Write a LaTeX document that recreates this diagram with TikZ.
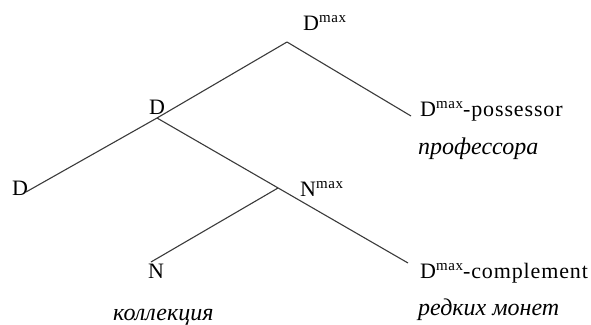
\documentclass[tikz,border=0pt]{standalone}
\usepackage{fontspec}
\setmainfont{Liberation Serif}
\usepackage{tikz}
\usetikzlibrary{positioning}
\definecolor{branch}{HTML}{3A3A3A}
\newcommand{\maxsup}[1]{#1\raisebox{7.5pt}{\fontsize{15}{15}\selectfont max}}

\begin{document}
\begin{tikzpicture}[x=1pt,y=-1pt,
  lbl/.style={anchor=base west,inner sep=0pt,font=\fontsize{22}{26}\selectfont\addfontfeature{LetterSpace=4}},
  gloss/.style={anchor=base west,inner sep=0pt,font=\fontsize{24}{28}\selectfont\itshape},
  edge/.style={branch,line width=1.1pt}]
  \useasboundingbox (0,0) rectangle (591,324);
  \node[lbl] (dmax) at (303,30) {\maxsup{D}};
  \node[lbl] (dbar) at (149,114) {D};
  \node[lbl] (dhead) at (12,195) {D};
  \node[lbl] (nmax) at (300,196) {\maxsup{N}};
  \node[lbl] (nhead) at (148,278) {N};
  \node[lbl] (poss) at (420,116) {\maxsup{D}-possessor};
  \node[gloss] (possgl) at (418,154) {профессора};
  \node[lbl] (compl) at (420,278) {\maxsup{D}-complement};
  \node[gloss] (complgl) at (418,315) {редких монет};
  \node[gloss] (nheadgl) at (113,320) {коллекция};
  \coordinate (dmaxv) at (287,42);
  \coordinate (dbarv) at (157,118);
  \coordinate (dheadv) at (26,192);
  \coordinate (possv) at (411,116);
  \coordinate (complv) at (408,263);
  \coordinate (nmaxv) at (278,188);
  \coordinate (nheadv) at (151,262);
  \draw[edge] (dmaxv) -- (possv);
  \draw[edge] (dmaxv) -- (dbarv);
  \draw[edge] (dbarv) -- (dheadv);
  \draw[edge] (dbarv) -- (complv);
  \draw[edge] (nmaxv) -- (nheadv);
\end{tikzpicture}
\end{document}
